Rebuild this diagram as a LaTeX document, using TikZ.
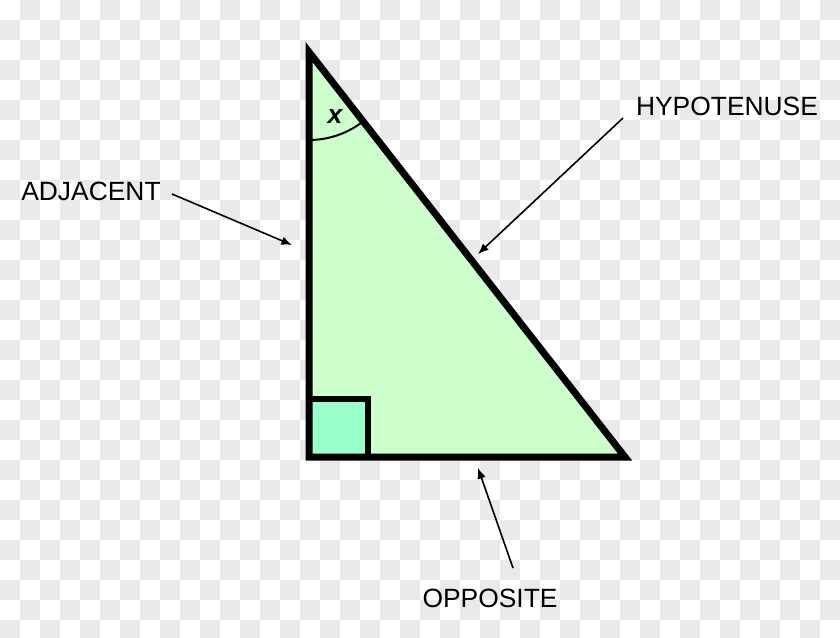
\documentclass[tikz,border=0pt]{standalone}
\usepackage{fontspec}
\setmainfont{Liberation Sans}
\usetikzlibrary{arrows.meta}
\definecolor{checkgray}{RGB}{234,234,234}
\definecolor{trifill}{RGB}{204,255,204}
\definecolor{sqfill}{RGB}{153,255,204}
\tikzset{
	sidelabel/.style={font=\fontsize{19.8}{23}\selectfont, inner sep=0pt},
	pointer/.style={-{Latex[length=8pt,width=6.5pt]}, line width=1.2pt},
}
\begin{document}
\begin{tikzpicture}[x=0.75pt,y=0.75pt]
		\useasboundingbox (0,0) rectangle (840,637);
		\fill[white] (0,0) rectangle (840,637);
		\begin{scope}
			\clip (0,0) rectangle (840,637);
			\foreach \i in {0,...,41}
				\foreach \j in {0,...,31} {
					\pgfmathtruncatemacro{\odd}{mod(\i+\j,2)}
					\ifnum\odd=1
						\fill[checkgray] (20*\i,637-20*\j) rectangle ++(20,-20);
					\fi
				}
		\end{scope}

		\coordinate (top) at (309,585);
		\coordinate (corner) at (309,180);
		\coordinate (right) at (625,180);
		\fill[trifill] (top) -- (corner) -- (right) -- cycle;
		\draw[line width=4.5pt, fill=sqfill] (corner) rectangle (368,238.5);
		\draw[line width=5.25pt] (top) -- (corner) -- (right) -- cycle;

		\draw[line width=1.5pt] (309,497) arc[start angle=-90, end angle=-52, radius=88];
		\node[sidelabel] (angle) at (335,520) {\bfseries\itshape x};

		\node[sidelabel] (adj) at (91,446) {ADJACENT};
		\node[sidelabel] (hyp) at (727,531) {HYPOTENUSE};
		\node[sidelabel] (opp) at (490,39) {OPPOSITE};

		\coordinate (adjtail) at (172,443);
		\coordinate (adjtip) at (292,392);
		\draw[pointer] (adjtail) -- (adjtip);
		\coordinate (hyptail) at (623,519);
		\coordinate (hyptip) at (478,383);
		\draw[pointer] (hyptail) -- (hyptip);
		\coordinate (opptail) at (513,69);
		\coordinate (opptip) at (478,169);
		\draw[pointer] (opptail) -- (opptip);
	\end{tikzpicture}
\end{document}
